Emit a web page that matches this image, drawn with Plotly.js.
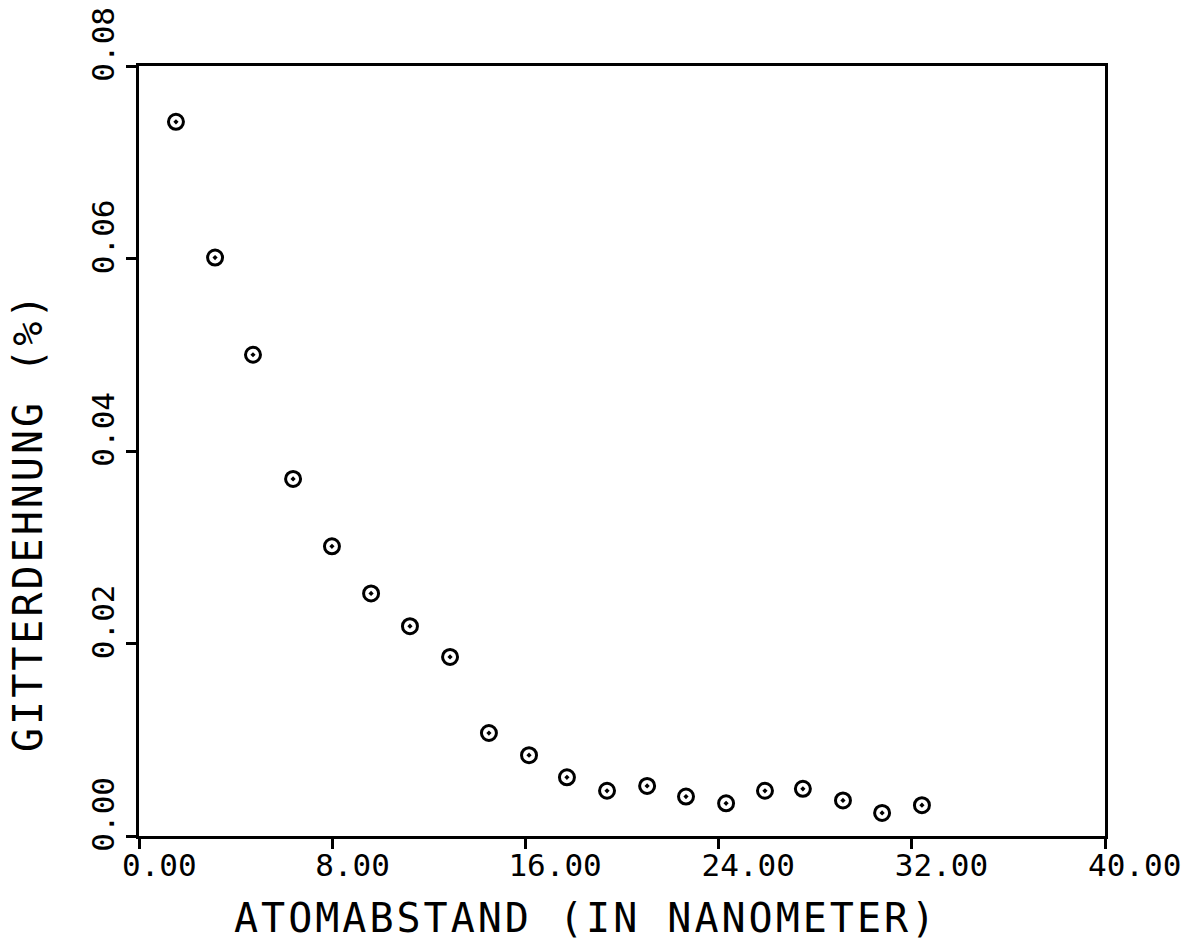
<!DOCTYPE html>
<html>
<head>
<meta charset="utf-8">
<script src="https://cdn.plot.ly/plotly-3.0.1.min.js"></script>
<style>
  html, body { margin: 0; padding: 0; background: #fff; }
  #chart { width: 1195px; height: 942px; }
  .annotation-text { letter-spacing: 3px; }
</style>
</head>
<body>
<div id="chart"></div>
<script>
// Atomabstand (nm) und zugehörige Gitterdehnung (%)
const atomabstand = [1.53, 3.15, 4.72, 6.38, 7.99, 9.61, 11.22, 12.88, 14.49, 16.15,
                     17.72, 19.38, 21.04, 22.65, 24.31, 25.92, 27.49, 29.15, 30.77, 32.42];
const gitterdehnung = [0.0742, 0.0601, 0.0500, 0.0371, 0.0301, 0.0252, 0.0218, 0.0186, 0.0107, 0.0084,
                       0.0061, 0.0047, 0.0052, 0.0041, 0.0034, 0.0047, 0.0049, 0.0037, 0.0024, 0.0032];

const xTicks = [0, 8, 16, 24, 32, 40];
const xTickText = ["0.00", "8.00", "16.00", "24.00", "32.00", "40.00"];
const yTicks = [0, 0.02, 0.04, 0.06, 0.08];
const yTickText = ["0.00", "0.02", "0.04", "0.06", "0.08"];

const xTitle = "ATOMABSTAND (IN NANOMETER)";
const yTitle = "GITTERDEHNUNG (%)";

const mono = "DejaVu Sans Mono, Liberation Mono, monospace";

const trace = {
  x: atomabstand,
  y: gitterdehnung,
  mode: "markers",
  type: "scatter",
  marker: {
    symbol: "circle-open-dot",
    size: 15,
    color: "#000",
    line: { color: "#000", width: 3 }
  },
  hoverinfo: "x+y"
};

const axisCommon = {
  ticks: "outside",
  ticklen: 10,
  tickwidth: 3,
  tickcolor: "#000",
  showgrid: false,
  zeroline: false,
  showline: true,
  linewidth: 3,
  linecolor: "#000",
  mirror: true,
  tickfont: { family: mono, size: 31, color: "#000" }
};

const layout = {
  width: 1195,
  height: 942,
  margin: { l: 139, r: 90, t: 66, b: 106 },
  paper_bgcolor: "#fff",
  plot_bgcolor: "#fff",
  showlegend: false,
  font: { family: mono, color: "#000" },
  xaxis: Object.assign({}, axisCommon, {
    range: [0, 40],
    tickvals: xTicks,
    ticktext: xTickText,
    ticklabelposition: "outside right",
    ticklabelshift: -20
  }),
  yaxis: Object.assign({}, axisCommon, {
    range: [0, 0.08],
    tickvals: yTicks,
    ticktext: yTickText,
    tickangle: -90,
    ticklabelshift: -17
  }),
  annotations: [
    {
      text: xTitle,
      xref: "paper", yref: "paper",
      x: 0.4627, y: -0.106,
      xanchor: "center", yanchor: "middle",
      showarrow: false,
      font: { family: mono, size: 40, color: "#000" }
    },
    {
      text: yTitle,
      xref: "paper", yref: "paper",
      x: -0.1149, y: 0.4078,
      xanchor: "center", yanchor: "middle",
      textangle: -90,
      showarrow: false,
      font: { family: mono, size: 40, color: "#000" }
    }
  ]
};

Plotly.newPlot("chart", [trace], layout, { displayModeBar: false, staticPlot: true });
</script>
</body>
</html>
